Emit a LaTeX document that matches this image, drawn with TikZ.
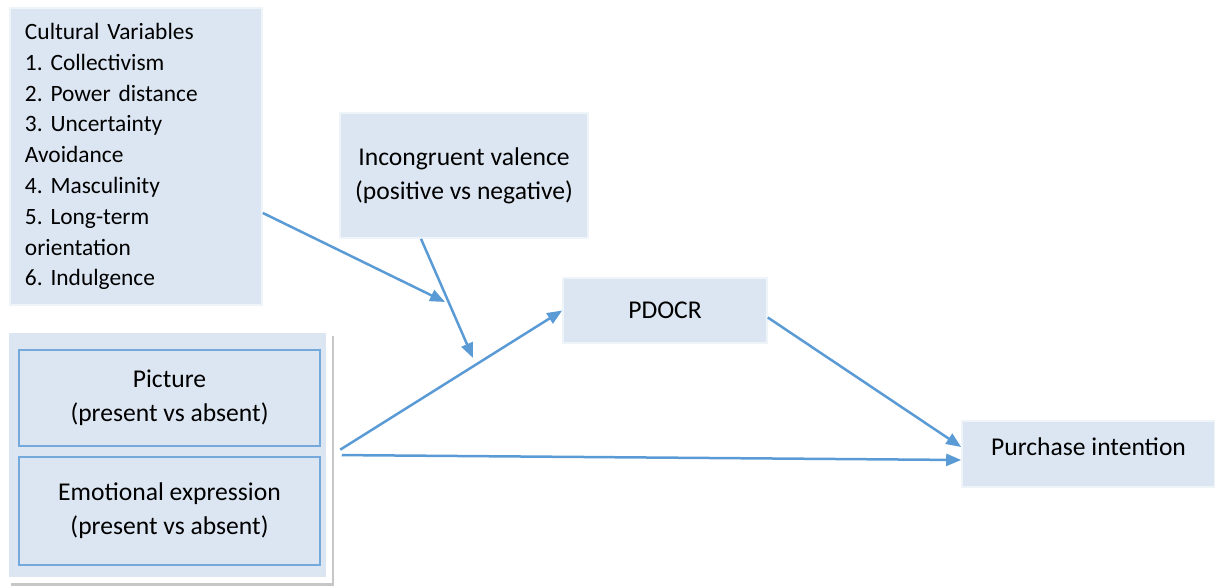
\documentclass[tikz,border=0pt]{standalone}
\usepackage{fontspec}
\setmainfont{Carlito}
\usetikzlibrary{positioning, arrows.meta, shadows}
\definecolor{boxfill}{HTML}{DCE6F2}
\definecolor{linkblue}{HTML}{5B9BD5}
\frenchspacing
\tikzset{
box/.style={rectangle, fill=boxfill, draw=white!55!boxfill, line width=0.8pt, inner sep=0pt, align=center, font=\fontsize{12.8}{17}\selectfont}, % plain light blue box
inbox/.style={box, draw=linkblue!85!white, line width=1pt, minimum width=150.5pt}, % boxes inside the group
link/.style={draw=linkblue, line width=1.25pt, -{Triangle[length=7.5pt, width=6pt]}}, % blue arrows
}

\begin{document}
\begin{tikzpicture}[x=0.5pt, y=-0.5pt]
    \useasboundingbox (0,0) rectangle (1215,587);
    % moderators
    \node[box, align=left, text width=111pt, inner xsep=7.5pt, minimum height=148.5pt, font=\fontsize{11.7}{15.4}\selectfont] (cult) at (136,156.5)
        {Cultural Variables\\1. Collectivism\\2. Power distance\\3. Uncertainty\\Avoidance\\4. Masculinity\\5. Long-term\\orientation\\6. Indulgence};
    \node[box, minimum width=124pt, minimum height=62.5pt] (inc) at (464,175.5) {Incongruent valence\\(positive vs negative)};
    % mediator and outcome
    \node[box, minimum width=102pt, minimum height=32.5pt] (pdocr) at (665,310.5) {PDOCR};
    \node[box, minimum width=126.5pt, minimum height=33pt, text height=6pt, text depth=5pt] (pi) at (1088.5,454) {Purchase intention};
    % manipulated factors
    \node[box, draw=white, line width=2.75pt, minimum width=161.5pt, minimum height=125pt,
        drop shadow={shadow xshift=2.6pt, shadow yshift=-2.8pt, fill=black!22, opacity=1}] (grp) at (167.5,455) {};
    \node[inbox, minimum height=48pt, yshift=-1.5pt] (pic) at (169.5,395) {Picture\\(present vs absent)};
    \node[inbox, minimum height=54pt, below=4.5pt of pic] (emo) {Emotional expression\\(present vs absent)};
    % free arrow ends
    \coordinate (cvtip) at (445,302);
    \coordinate (ivtip) at (473,358);
    \draw[link] (cult.-24) -- (cvtip);
    \draw[link] ([xshift=-21.5pt]inc.south) -- (ivtip);
    \draw[link, shorten <=5pt] (grp.east) -- (pdocr.west);
    \draw[link, shorten <=5pt] (grp.east) -- ([yshift=-3pt]pi.west);
    \draw[link] ([yshift=-3.5pt]pdocr.east) -- ([yshift=3.5pt]pi.west);
\end{tikzpicture}
\end{document}
